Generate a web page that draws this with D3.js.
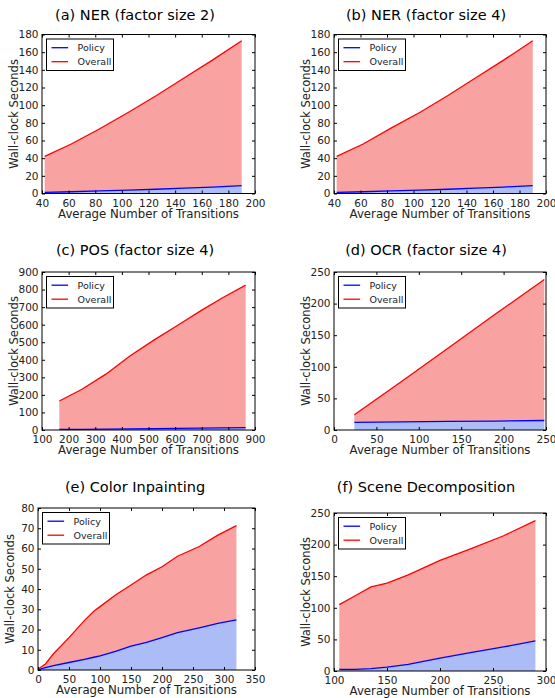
<!DOCTYPE html>
<html>
<head>
<meta charset="utf-8">
<script src="https://cdn.jsdelivr.net/npm/d3@7"></script>
<style>
  body { margin: 0; background: #fff; }
</style>
</head>
<body>
<svg id="chart" width="555" height="698"></svg>
<script>
// --- data ---
const titles = ["(a) NER (factor size 2)", "(b) NER (factor size 4)", "(c) POS (factor size 4)",
                "(d) OCR (factor size 4)", "(e) Color Inpainting", "(f) Scene Decomposition"];
const seriesNames = ["Policy", "Overall"];

const nerAx = [42, 62, 83, 105, 126, 147, 168, 190];
const nerAPolicy = [1.3, 2, 3, 3.8, 4.8, 6, 7.3, 9];
const nerAOverall = [42, 56, 73, 92, 111, 131, 151, 173];

const nerBx = [42, 62, 83, 105, 126, 147, 168, 190];
const nerBPolicy = [1.3, 2, 3, 3.8, 4.8, 6, 7.3, 9];
const nerBOverall = [42, 56, 74, 92, 111, 131, 151, 173];

const posX = [165, 250, 340, 430, 520, 610, 700, 780, 865];
const posPolicy = [3, 4, 5, 6.5, 8, 9, 10.5, 12, 13];
const posOverall = [165, 232, 318, 422, 512, 597, 683, 755, 825];

const ocrX = [24, 80, 136, 192, 248];
const ocrPolicy = [12, 12.7, 13.5, 14.2, 15];
const ocrOverall = [24, 77, 131, 185, 238];

const colorX = [0, 5, 12, 25, 50, 75, 90, 100, 125, 150, 175, 200, 225, 260, 290, 320];
const colorPolicy = [0.3, 0.6, 1.2, 2.2, 3.7, 5.3, 6.3, 7, 9.2, 11.8, 13.7, 16, 18.4, 20.8, 23, 24.8];
const colorOverall = [0.5, 1.5, 3, 8, 16, 24.5, 29, 31.3, 37, 42, 47, 51, 56.2, 61, 66.6, 71.3];

const sceneX = [105, 120, 135, 150, 170, 200, 230, 260, 290];
const scenePolicy = [2.5, 2.6, 3.6, 6.2, 10.5, 20.5, 29.5, 38, 47.5];
const sceneOverall = [105, 119, 133, 139, 152, 175, 194, 214, 238];

const xTicks = [d3.range(40, 201, 20), d3.range(40, 201, 20), d3.range(100, 901, 100),
                d3.range(0, 251, 50), d3.range(0, 351, 50), d3.range(100, 301, 50)];
const yTicks = [d3.range(0, 181, 20), d3.range(0, 181, 20), d3.range(0, 901, 100),
                d3.range(0, 251, 50), d3.range(0, 81, 10), d3.range(0, 251, 50)];

const xs = [nerAx, nerBx, posX, ocrX, colorX, sceneX];
const policies = [nerAPolicy, nerBPolicy, posPolicy, ocrPolicy, colorPolicy, scenePolicy];
const overalls = [nerAOverall, nerBOverall, posOverall, ocrOverall, colorOverall, sceneOverall];

// panel frames (layout only)
const frames = [
  {left: 42, top: 34.5, w: 213, h: 159, tx: 135, ty: 20},
  {left: 334, top: 34.5, w: 212, h: 159, tx: 426, ty: 20},
  {left: 42, top: 272, w: 213, h: 158, tx: 135, ty: 255},
  {left: 334, top: 272, w: 212, h: 158, tx: 426, ty: 255},
  {left: 38, top: 508, w: 217, h: 162, tx: 135, ty: 492},
  {left: 334, top: 513, w: 212, h: 158, tx: 426, ty: 492}
];

const font = "DejaVu Sans, sans-serif";
const svg = d3.select("#chart").attr("font-family", font);

const redFill = "#f8a2a2", blueFill = "#abbcf6";

function drawPanel(i) {
  const f = frames[i];
  const xt = xTicks[i], yt = yTicks[i];
  const x = d3.scaleLinear().domain([xt[0], xt[xt.length - 1]]).range([0, f.w]);
  const y = d3.scaleLinear().domain([yt[0], yt[yt.length - 1]]).range([f.h, 0]);
  const rows = xs[i].map((d, k) => ({x: d, p: policies[i][k], o: overalls[i][k]}));

  svg.append("text")
    .attr("x", f.tx).attr("y", f.ty)
    .attr("text-anchor", "middle")
    .attr("font-size", 14.5)
    .attr("fill", "#000")
    .text(titles[i]);

  const g = svg.append("g").attr("transform", `translate(${f.left},${f.top})`);

  g.append("path").datum(rows)
    .attr("fill", redFill)
    .attr("d", d3.area().x(d => x(d.x)).y0(d => y(d.p)).y1(d => y(d.o)));
  g.append("path").datum(rows)
    .attr("fill", blueFill)
    .attr("d", d3.area().x(d => x(d.x)).y0(y(0)).y1(d => y(d.p)));

  g.append("path").datum(rows)
    .attr("fill", "none").attr("stroke", "#0000ff").attr("stroke-width", 1.3)
    .attr("d", d3.line().x(d => x(d.x)).y(d => y(d.p)));
  g.append("path").datum(rows)
    .attr("fill", "none").attr("stroke", "#ff0000").attr("stroke-width", 1.3)
    .attr("d", d3.line().x(d => x(d.x)).y(d => y(d.o)));

  // axes with inward ticks on all sides
  const bottom = g.append("g").attr("transform", `translate(0,${f.h})`)
    .call(d3.axisBottom(x).tickValues(xt).tickSizeInner(-3).tickSizeOuter(0).tickPadding(6));
  const top = g.append("g")
    .call(d3.axisTop(x).tickValues(xt).tickSizeInner(-3).tickSizeOuter(0).tickFormat(""));
  const left = g.append("g")
    .call(d3.axisLeft(y).tickValues(yt).tickSizeInner(-3).tickSizeOuter(0).tickPadding(3.5));
  const right = g.append("g").attr("transform", `translate(${f.w},0)`)
    .call(d3.axisRight(y).tickValues(yt).tickSizeInner(-3).tickSizeOuter(0).tickFormat(""));
  [bottom, top, left, right].forEach(a => {
    a.select(".domain").remove();
    a.selectAll("line").attr("stroke", "#000");
    a.selectAll("text").attr("font-size", 10.5).attr("fill", "#222").attr("font-family", font);
  });

  g.append("rect")
    .attr("width", f.w).attr("height", f.h)
    .attr("fill", "none").attr("stroke", "#000").attr("stroke-width", 1);

  // axis labels
  g.append("text")
    .attr("x", f.w / 2).attr("y", f.h + 24)
    .attr("text-anchor", "middle").attr("font-size", 11.75).attr("fill", "#222")
    .text("Average Number of Transitions");
  g.append("text")
    .attr("transform", `translate(${-24},${f.h / 2}) rotate(-90)`)
    .attr("text-anchor", "middle").attr("font-size", 11.5).attr("fill", "#222")
    .text("Wall-clock Seconds");

  // legend
  const lg = g.append("g").attr("transform", "translate(4.5,4.5)");
  lg.append("rect").attr("width", 67).attr("height", 31.5)
    .attr("fill", "#fff").attr("stroke", "#000").attr("stroke-width", 1);
  seriesNames.forEach((name, k) => {
    const yy = 8.7 + k * 14;
    lg.append("line").attr("x1", 5).attr("x2", 21.6).attr("y1", yy).attr("y2", yy)
      .attr("stroke", k === 0 ? "#0000ff" : "#ff0000").attr("stroke-width", 1.3);
    lg.append("text").attr("x", 31).attr("y", yy + 3.5)
      .attr("font-size", 9.5).attr("fill", "#222").text(name);
  });
}

d3.range(6).forEach(drawPanel);
</script>
</body>
</html>
